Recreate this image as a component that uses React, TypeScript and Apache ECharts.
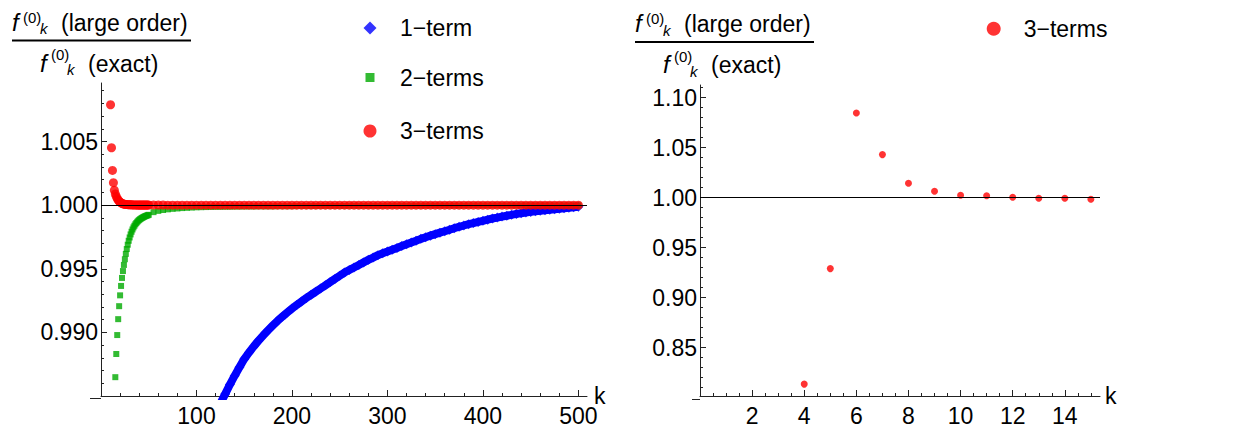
import React, { useEffect, useRef } from "react";
import * as echarts from "echarts";

// ---------- data ----------
const K_STEP5 = [
  55, 60, 65, 70, 75, 80, 85, 90, 95, 100,
  105, 110, 115, 120, 125, 130, 135, 140, 145, 150,
  155, 160, 165, 170, 175, 180, 185, 190, 195, 200,
  205, 210, 215, 220, 225, 230, 235, 240, 245, 250,
  255, 260, 265, 270, 275, 280, 285, 290, 295, 300,
  305, 310, 315, 320, 325, 330, 335, 340, 345, 350,
  355, 360, 365, 370, 375, 380, 385, 390, 395, 400,
  405, 410, 415, 420, 425, 430, 435, 440, 445, 450,
  455, 460, 465, 470, 475, 480, 485, 490, 495, 500,
];

const kBlue = [
  125, 130, 135, 140, 145, 150, 155, 160, 165, 170,
  175, 180, 185, 190, 195, 200, 205, 210, 215, 220,
  225, 230, 235, 240, 245, 250, 255, 260, 265, 270,
  275, 280, 285, 290, 295, 300, 305, 310, 315, 320,
  325, 330, 335, 340, 345, 350, 355, 360, 365, 370,
  375, 380, 385, 390, 395, 400, 405, 410, 415, 420,
  425, 430, 435, 440, 445, 450, 455, 460, 465, 470,
  475, 480, 485, 490, 495, 500,
];
const oneTerm = [
  0.9844, 0.98515, 0.9859, 0.9866, 0.98725, 0.9879, 0.98842, 0.9889, 0.98935, 0.98977,
  0.99017, 0.99055, 0.99091, 0.99124, 0.99156, 0.99187, 0.99216, 0.99243, 0.9927, 0.99295,
  0.9932, 0.99345, 0.9937, 0.99395, 0.9942, 0.99445, 0.9947, 0.9949, 0.9951, 0.9953,
  0.9955, 0.9957, 0.99588, 0.99607, 0.99621, 0.99635, 0.9965, 0.99664, 0.99678, 0.99692,
  0.99706, 0.9972, 0.99735, 0.99748, 0.9976, 0.99772, 0.99784, 0.99795, 0.99806, 0.99819,
  0.9983, 0.9984, 0.9985, 0.99859, 0.99868, 0.99877, 0.99886, 0.99895, 0.99902, 0.9991,
  0.99917, 0.99924, 0.99931, 0.99937, 0.99942, 0.99947, 0.99952, 0.99956, 0.9996, 0.99964,
  0.99967, 0.99971, 0.99975, 0.9998, 0.99984, 0.99988,
];

const kGreenHead = [
  15, 16, 17, 18, 19, 20, 21, 22, 23, 24,
  25, 26, 27, 28, 29, 30, 31, 32, 33, 34,
  35, 36, 37, 38, 39, 40, 41, 42, 43, 44,
  45, 46, 47, 48, 49, 50,
];
const twoTermsHead = [
  0.98648, 0.9883, 0.98979, 0.99104, 0.99206, 0.99291, 0.99365, 0.99428, 0.99482, 0.9953,
  0.99575, 0.99617, 0.99655, 0.99689, 0.9972, 0.99746, 0.9977, 0.99791, 0.99809, 0.99825,
  0.99838, 0.9985, 0.9986, 0.99869, 0.99877, 0.99884, 0.9989, 0.99895, 0.999, 0.99904,
  0.99908, 0.99912, 0.99915, 0.99918, 0.99921, 0.99924,
];
const twoTermsTail = [
  0.99945, 0.99955, 0.99962, 0.99967, 0.99971, 0.99974, 0.99977, 0.99979, 0.99981, 0.99983,
  0.99984, 0.99985, 0.99986, 0.99987, 0.99987, 0.99988, 0.99988, 0.99989, 0.99989, 0.9999,
  0.9999, 0.9999, 0.99991, 0.99991, 0.99991, 0.99991, 0.99992, 0.99992, 0.99992, 0.99992,
  0.99993, 0.99993, 0.99993, 0.99993, 0.99993, 0.99994, 0.99994, 0.99994, 0.99994, 0.99994,
  0.99994, 0.99995, 0.99995, 0.99995, 0.99995, 0.99995, 0.99995, 0.99995, 0.99995, 0.99996,
  0.99996, 0.99996, 0.99996, 0.99996, 0.99996, 0.99996, 0.99996, 0.99997, 0.99997, 0.99997,
  0.99997, 0.99997, 0.99997, 0.99997, 0.99997, 0.99997, 0.99998, 0.99998, 0.99998, 0.99998,
  0.99998, 0.99998, 0.99998, 0.99998, 0.99998, 0.99998, 0.99998, 0.99998, 0.99999, 0.99999,
  0.99999, 0.99999, 0.99999, 0.99999, 0.99999, 0.99999, 0.99999, 0.99999, 0.99999, 0.99999,
];

const kRedHead = [
  10, 11, 12, 13, 14, 15, 16, 17, 18, 19,
  20, 21, 22, 23, 24, 25, 26, 27, 28, 29,
  30, 31, 32, 33, 34, 35, 36, 37, 38, 39,
  40, 41, 42, 43, 44, 45, 46, 47, 48, 49,
  50,
];
const threeTermsHead = [
  1.00789, 1.00451, 1.00273, 1.00177, 1.00118, 1.00088, 1.00068, 1.00052, 1.0004, 1.0003,
  1.00023, 1.00018, 1.00014, 1.00011, 1.00008, 1.00007, 1.00006, 1.00005, 1.00004, 1.00004,
  1.00003, 1.00003, 1.00003, 1.00002, 1.00002, 1.00002, 1.00002, 1.00002, 1.00001, 1.00001,
  1.00001, 1.00001, 1.00001, 1.00001, 1.00001, 1.00001, 1.00001, 1.00001, 1.00001, 1.00001,
  1.00001,
];
const threeTermsTail = [
  1.00001, 1.00001, 1.00001, 1.0, 1.0, 1.0, 1.0, 1.0, 1.0, 1.0,
  1.0, 1.0, 1.0, 1.0, 1.0, 1.0, 1.0, 1.0, 1.0, 1.0,
  1.0, 1.0, 1.0, 1.0, 1.0, 1.0, 1.0, 1.0, 1.0, 1.0,
  1.0, 1.0, 1.0, 1.0, 1.0, 1.0, 1.0, 1.0, 1.0, 1.0,
  1.0, 1.0, 1.0, 1.0, 1.0, 1.0, 1.0, 1.0, 1.0, 1.0,
  1.0, 1.0, 1.0, 1.0, 1.0, 1.0, 1.0, 1.0, 1.0, 1.0,
  1.0, 1.0, 1.0, 1.0, 1.0, 1.0, 1.0, 1.0, 1.0, 1.0,
  1.0, 1.0, 1.0, 1.0, 1.0, 1.0, 1.0, 1.0, 1.0, 1.0,
  1.0, 1.0, 1.0, 1.0, 1.0, 1.0, 1.0, 1.0, 1.0, 1.0,
];

const kRight = [4, 5, 6, 7, 8, 9, 10, 11, 12, 13, 14, 15];
const threeTermsRight = [0.8134, 0.9289, 1.0845, 1.0429, 1.0142, 1.0062, 1.0023, 1.0017, 1.0003, 0.9993, 0.9993, 0.9983];

// tick labels / tick positions
const xMajorL = [100, 200, 300, 400, 500];
const xMinorL = [20, 40, 60, 80, 120, 140, 160, 180, 220, 240, 260, 280, 320, 340, 360, 380, 420, 440, 460, 480];
const yMajorL = [0.99, 0.995, 1.0, 1.005];
const yMinorL = [0.986, 0.987, 0.988, 0.989, 0.991, 0.992, 0.993, 0.994, 0.996, 0.997, 0.998, 0.999, 1.001, 1.002, 1.003, 1.004, 1.006, 1.007, 1.008, 1.009];
const xMajorR = [2, 4, 6, 8, 10, 12, 14];
const xMinorR = [0.5, 1, 1.5, 2.5, 3, 3.5, 4.5, 5, 5.5, 6.5, 7, 7.5, 8.5, 9, 9.5, 10.5, 11, 11.5, 12.5, 13, 13.5, 14.5, 15];
const yMajorR = [0.85, 0.9, 0.95, 1.0, 1.05, 1.1];
const yMinorR = [0.81, 0.82, 0.83, 0.84, 0.86, 0.87, 0.88, 0.89, 0.91, 0.92, 0.93, 0.94, 0.96, 0.97, 0.98, 0.99, 1.01, 1.02, 1.03, 1.04, 1.06, 1.07, 1.08, 1.09, 1.11];

const N1 = "1\u2212term";
const N2 = "2\u2212terms";
const N3 = "3\u2212terms";

// ---------- styling ----------
const FONT = '"Liberation Sans", Arial, Helvetica, sans-serif';
const FS = 23;
const AX = "#222";

const pairs = (ks: number[], vs: number[]) => ks.map((k, i) => [k, vs[i]]);

function txt(text: string, x: number, baseline: number, fs: number, italic: boolean) {
  return {
    type: "text",
    x,
    y: baseline - 0.3465 * fs,
    silent: true,
    style: {
      text,
      fontSize: fs,
      fontFamily: FONT,
      fontStyle: italic ? "italic" : "normal",
      fill: "#000",
      align: "left",
      verticalAlign: "middle",
    },
  };
}

function fraction(dx: number, dy: number) {
  return [
    txt("f", 12 + dx, 30.5 + dy, 24, true),
    txt("(0)", 23 + dx, 22.3 + dy, 15, false),
    txt("k", 40 + dx, 34 + dy, 15, true),
    txt("(large order)", 61 + dx, 30.5 + dy, FS, false),
    {
      type: "line",
      silent: true,
      shape: { x1: 12 + dx, y1: 40.5 + dy, x2: 191 + dx, y2: 40.5 + dy },
      style: { stroke: "#000", lineWidth: 2 },
    },
    txt("f", 40 + dx, 71.5 + dy, 24, true),
    txt("(0)", 51 + dx, 60 + dy, 15, false),
    txt("k", 67 + dx, 75 + dy, 15, true),
    txt("(exact)", 88 + dx, 71.5 + dy, FS, false),
  ];
}

const labelStyle = { fontSize: FS, fontFamily: FONT, color: "#000" };

function mainX(gridIndex: number, max: number, major: number[], nameGap: number) {
  return {
    type: "value",
    gridIndex,
    min: 0,
    max,
    position: "bottom",
    name: "k",
    nameLocation: "end",
    nameGap,
    nameMoveOverlap: false,
    nameTextStyle: { ...labelStyle },
    axisLine: { show: true, onZero: false, lineStyle: { color: AX, width: 1 } },
    axisTick: { show: true, inside: true, length: 6, customValues: major, lineStyle: { color: AX } },
    axisLabel: { show: true, customValues: major, margin: 8, ...labelStyle, formatter: (v: number) => String(v) },
    splitLine: { show: false },
  };
}
function minorX(gridIndex: number, max: number, minor: number[]) {
  return {
    type: "value",
    gridIndex,
    min: 0,
    max,
    position: "bottom",
    axisLine: { show: false, onZero: false },
    axisTick: { show: true, inside: true, length: 3, customValues: minor, lineStyle: { color: AX } },
    axisLabel: { show: false },
    splitLine: { show: false },
  };
}
function mainY(gridIndex: number, min: number, max: number, major: number[], digits: number) {
  return {
    type: "value",
    gridIndex,
    min,
    max,
    position: "left",
    axisLine: { show: true, onZero: false, lineStyle: { color: AX, width: 1 } },
    axisTick: { show: true, inside: true, length: 6, customValues: major, lineStyle: { color: AX } },
    axisLabel: { show: true, customValues: major, margin: 3, ...labelStyle, formatter: (v: number) => v.toFixed(digits) },
    splitLine: { show: false },
  };
}
function minorY(gridIndex: number, min: number, max: number, minor: number[]) {
  return {
    type: "value",
    gridIndex,
    min,
    max,
    position: "left",
    axisLine: { show: false, onZero: false },
    axisTick: { show: true, inside: true, length: 3, customValues: minor, lineStyle: { color: AX } },
    axisLabel: { show: false },
    splitLine: { show: false },
  };
}

// marker centred at (centerX, centerY); text starts 30px right of the marker centre
function legendItem(name: string, icon: string, centerX: number, centerY: number, size: number) {
  return {
    data: [{ name, icon }],
    left: centerX - size / 2,
    top: centerY - 12,
    padding: 0,
    itemWidth: size,
    itemHeight: size,
    selectedMode: false,
    itemStyle: { borderWidth: 0 },
    textStyle: { ...labelStyle, lineHeight: 24, padding: [0, 0, 0, 25 - size / 2] },
  };
}

const oneOne = {
  silent: true,
  symbol: ["none", "none"],
  label: { show: false },
  lineStyle: { color: "#000", width: 1, type: "solid" },
  data: [{ yAxis: 1 }],
  z: 10,
};

export default function App() {
  const ref = useRef<HTMLDivElement>(null);

  useEffect(() => {
    if (!ref.current) return;
    const chart = echarts.init(ref.current, null, { renderer: "svg" });
    const option: any = {
      animation: false,
      backgroundColor: "#fff",
      textStyle: { fontFamily: FONT },
      grid: [
        { left: 101, top: 83, width: 486, height: 315 },
        { left: 700, top: 85, width: 400, height: 314 },
      ],
      xAxis: [mainX(0, 509, xMajorL, 7), minorX(0, 509, xMinorL), mainX(1, 15.35, xMajorR, 5), minorX(1, 15.35, xMinorR)],
      yAxis: [
        mainY(0, 0.985, 1.0096, yMajorL, 3),
        minorY(0, 0.985, 1.0096, yMinorL),
        mainY(1, 0.8015, 1.1125, yMajorR, 2),
        minorY(1, 0.8015, 1.1125, yMinorR),
      ],
      legend: [
        legendItem(N1, "diamond", 370, 28, 13),
        legendItem(N2, "rect", 370, 77.5, 9),
        legendItem(N3, "circle", 370, 131, 13),
        legendItem(N3, "circle", 993.7, 28.7, 14),
      ],
      graphic: [
        ...fraction(0, 0),
        ...fraction(623, 1.5),
        { type: "line", silent: true, shape: { x1: 90, y1: 398.5, x2: 101, y2: 398.5 }, style: { stroke: AX, lineWidth: 1 } },
        { type: "line", silent: true, shape: { x1: 692, y1: 399.5, x2: 700, y2: 399.5 }, style: { stroke: AX, lineWidth: 1 } },
      ],
      series: [
        {
          type: "line",
          name: "1-term band",
          xAxisIndex: 0,
          yAxisIndex: 0,
          data: pairs(kBlue, oneTerm),
          showSymbol: false,
          symbol: "none",
          lineStyle: { color: "#0000ff", width: 8 },
          z: 1,
          silent: true,
        },
        {
          type: "scatter",
          name: N1,
          xAxisIndex: 0,
          yAxisIndex: 0,
          data: pairs(kBlue, oneTerm),
          symbol: "diamond",
          symbolSize: 10,
          itemStyle: { color: "#0000ff" },
          z: 2,
        },
        {
          type: "scatter",
          name: N2,
          xAxisIndex: 0,
          yAxisIndex: 0,
          data: [...pairs(kGreenHead, twoTermsHead), ...pairs(K_STEP5, twoTermsTail)],
          symbol: "rect",
          symbolSize: 6,
          itemStyle: { color: "#00aa00" },
          z: 3,
        },
        {
          type: "scatter",
          name: N3,
          xAxisIndex: 0,
          yAxisIndex: 0,
          data: [...pairs(kRedHead, threeTermsHead), ...pairs(K_STEP5, threeTermsTail)],
          symbol: "circle",
          symbolSize: 9,
          itemStyle: { color: "#ff0000" },
          z: 4,
          markLine: oneOne,
        },
        {
          type: "scatter",
          name: N3,
          xAxisIndex: 2,
          yAxisIndex: 2,
          data: pairs(kRight, threeTermsRight),
          symbol: "circle",
          symbolSize: 7,
          itemStyle: { color: "#ff0000" },
          z: 4,
          markLine: oneOne,
        },
      ],
    };
    chart.setOption(option);
    return () => chart.dispose();
  }, []);

  return <div ref={ref} style={{ position: "absolute", left: 0, top: 0, width: 1258, height: 427 }} />;
}
